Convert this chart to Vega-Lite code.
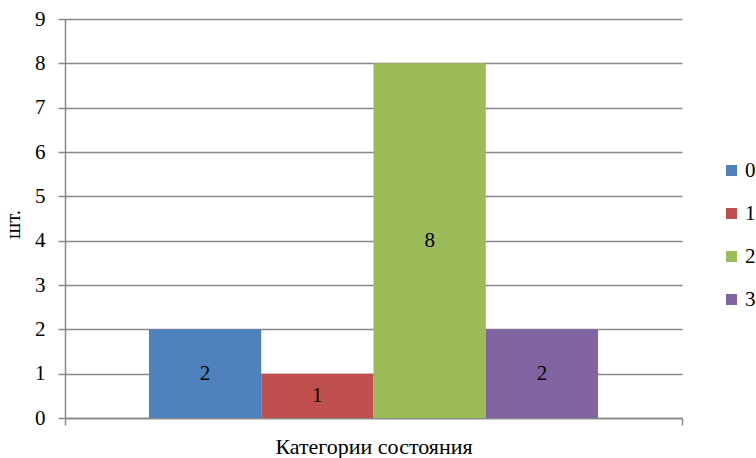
{
  "$schema": "https://vega.github.io/schema/vega-lite/v6.json",
  "width": 617,
  "height": 399,
  "autosize": {"type": "none"},
  "padding": {"left": 65, "top": 19, "right": 74, "bottom": 40},
  "background": "white",
  "config": {
    "view": {"stroke": null},
    "font": "'Liberation Serif', 'DejaVu Serif', serif",
    "text": {"font": "'Liberation Serif', 'DejaVu Serif', serif"},
    "legend": {"labelFont": "'Liberation Serif', 'DejaVu Serif', serif"},
    "axis": {"labelFont": "'Liberation Serif', 'DejaVu Serif', serif", "titleFont": "'Liberation Serif', 'DejaVu Serif', serif", "labelColor": "black", "titleColor": "black", "titleFontWeight": "normal"}
  },
  "data": {
    "values": [
      {"category": "Категории состояния", "series": "0", "count": 2},
      {"category": "Категории состояния", "series": "1", "count": 1},
      {"category": "Категории состояния", "series": "2", "count": 8},
      {"category": "Категории состояния", "series": "3", "count": 2}
    ]
  },
  "encoding": {
    "x": {
      "field": "category",
      "type": "nominal",
      "scale": {"paddingInner": 0, "paddingOuter": 0},
      "axis": {
        "title": "Категории состояния",
        "labels": false,
        "tickBand": "extent",
        "tickSize": 7,
        "tickColor": "#888888",
        "tickWidth": 1.5,
        "domainColor": "#888888",
        "domainWidth": 1.5,
        "titleFontSize": 22,
        "titlePadding": 11
      }
    },
    "xOffset": {
      "field": "series",
      "type": "nominal",
      "scale": {"paddingInner": 0, "paddingOuter": 0.748}
    }
  },
  "layer": [
    {
      "mark": {"type": "bar"},
      "encoding": {
        "y": {
          "field": "count",
          "type": "quantitative",
          "scale": {"domain": [0, 9], "nice": false},
          "axis": {
            "title": "шт.",
            "titleY": 205,
            "values": [0, 1, 2, 3, 4, 5, 6, 7, 8, 9],
            "grid": true,
            "gridColor": "#888888",
            "gridWidth": 1.5,
            "domainColor": "#888888",
            "domainWidth": 1.5,
            "tickColor": "#888888",
            "tickWidth": 1.5,
            "tickSize": 7,
            "labelFontSize": 21,
            "labelPadding": 13,
            "titleFontSize": 21,
            "titlePadding": 11
          }
        },
        "color": {
          "field": "series",
          "type": "nominal",
          "scale": {"domain": ["0", "1", "2", "3"], "range": ["#4F81BD", "#C0504D", "#9BBB59", "#8064A2"]},
          "legend": {
            "title": null,
            "orient": "none",
            "legendX": 656,
            "legendY": 141,
            "symbolType": "square",
            "symbolSize": 121,
            "symbolStrokeWidth": 0,
            "labelFontSize": 21,
            "labelColor": "black",
            "labelOffset": 3,
            "rowPadding": 21
          }
        }
      }
    },
    {
      "transform": [{"calculate": "datum.count / 2", "as": "mid"}],
      "mark": {"type": "text", "fontSize": 21, "color": "black", "baseline": "middle"},
      "encoding": {
        "y": {"field": "mid", "type": "quantitative"},
        "text": {"field": "count", "type": "quantitative"}
      }
    }
  ]
}
